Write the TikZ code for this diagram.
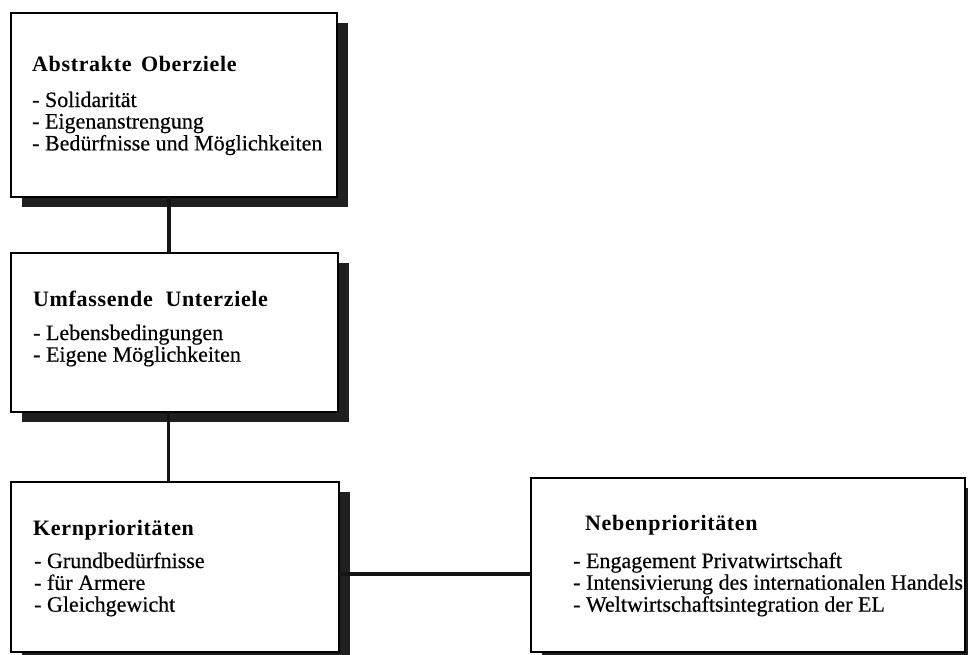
\documentclass[tikz,border=0pt]{standalone}
\usepackage{fontspec}
\setmainfont{Liberation Serif}[FakeBold=0.4]
\newfontfamily\titlefont{Liberation Serif}[LetterSpace=3]
\usetikzlibrary{shadows}
\tikzset{
  box/.style={draw=black, line width=2.6pt, fill=white, rectangle, inner sep=0pt, outer sep=0pt, anchor=north west,
    drop shadow={shadow xshift=11pt, shadow yshift=-10pt, fill=black!88, opacity=1}},
  ttl/.style={anchor=base west, inner sep=0pt, text=black, font=\titlefont\bfseries\fontsize{22}{22}\selectfont},
  itm/.style={anchor=base west, inner sep=0pt, text=black, font=\fontsize{22}{21.5}\selectfont},
  link/.style={line width=3.6pt, draw=black!92},
}
\newcommand{\itemlist}[1]{\renewcommand{\arraystretch}{1}\begin{tabular}[t]{@{}l@{}}#1\end{tabular}}
\begin{document}
\begin{tikzpicture}[x=1pt,y=-1pt]
\useasboundingbox (0,0) rectangle (968,654);
\clip (0,0) rectangle (968,654);
\fill[white] (0,0) rectangle (968,654);

% boxes
\node[box, minimum width=326pt, minimum height=184pt] (b1) at (11,13) {};
\node[box, minimum width=327pt, minimum height=159pt] (b2) at (11,253) {};
\node[box, minimum width=328pt, minimum height=170pt] (b3) at (11,482) {};
\node[box, minimum width=434pt, minimum height=174pt] (b4) at (531,478) {};

% connectors
\draw[link] ([xshift=-5pt]b1.south) -- ([xshift=-5pt]b1.south |- b2.north);
\draw[link] ([xshift=-6pt]b2.south) -- ([xshift=-6pt]b2.south |- b3.north);
\draw[link] ([yshift=-7pt]b3.east) -- ([yshift=-7pt]b3.east -| b4.west);

% texts
\node[ttl] (t1) at (32,71) {Abstrakte\hspace{0.15em} Oberziele};
\node[itm] (i1) at (32,107) {\itemlist{- Solidarität\\ - Eigenanstrengung\\ - Bedürfnisse und Möglichkeiten}};

\node[ttl] (t2) at (33,306) {Umfassende\hspace{0.3em} Unterziele};
\node[itm] (i2) at (33,340) {\itemlist{- Lebensbedingungen\\ - Eigene Möglichkeiten}};

\node[ttl] (t3) at (33,535) {Kernprioritäten};
\node[itm] (i3) at (34,568) {\itemlist{- Grundbedürfnisse\\ - für Armere\\ - Gleichgewicht}};

\node[ttl] (t4) at (585,530) {Nebenprioritäten};
\node[itm] (i4) at (573,568) {\itemlist{- Engagement Privatwirtschaft\\ - Intensivierung des internationalen Handels\\ - Weltwirtschaftsintegration der EL}};
\end{tikzpicture}
\end{document}
